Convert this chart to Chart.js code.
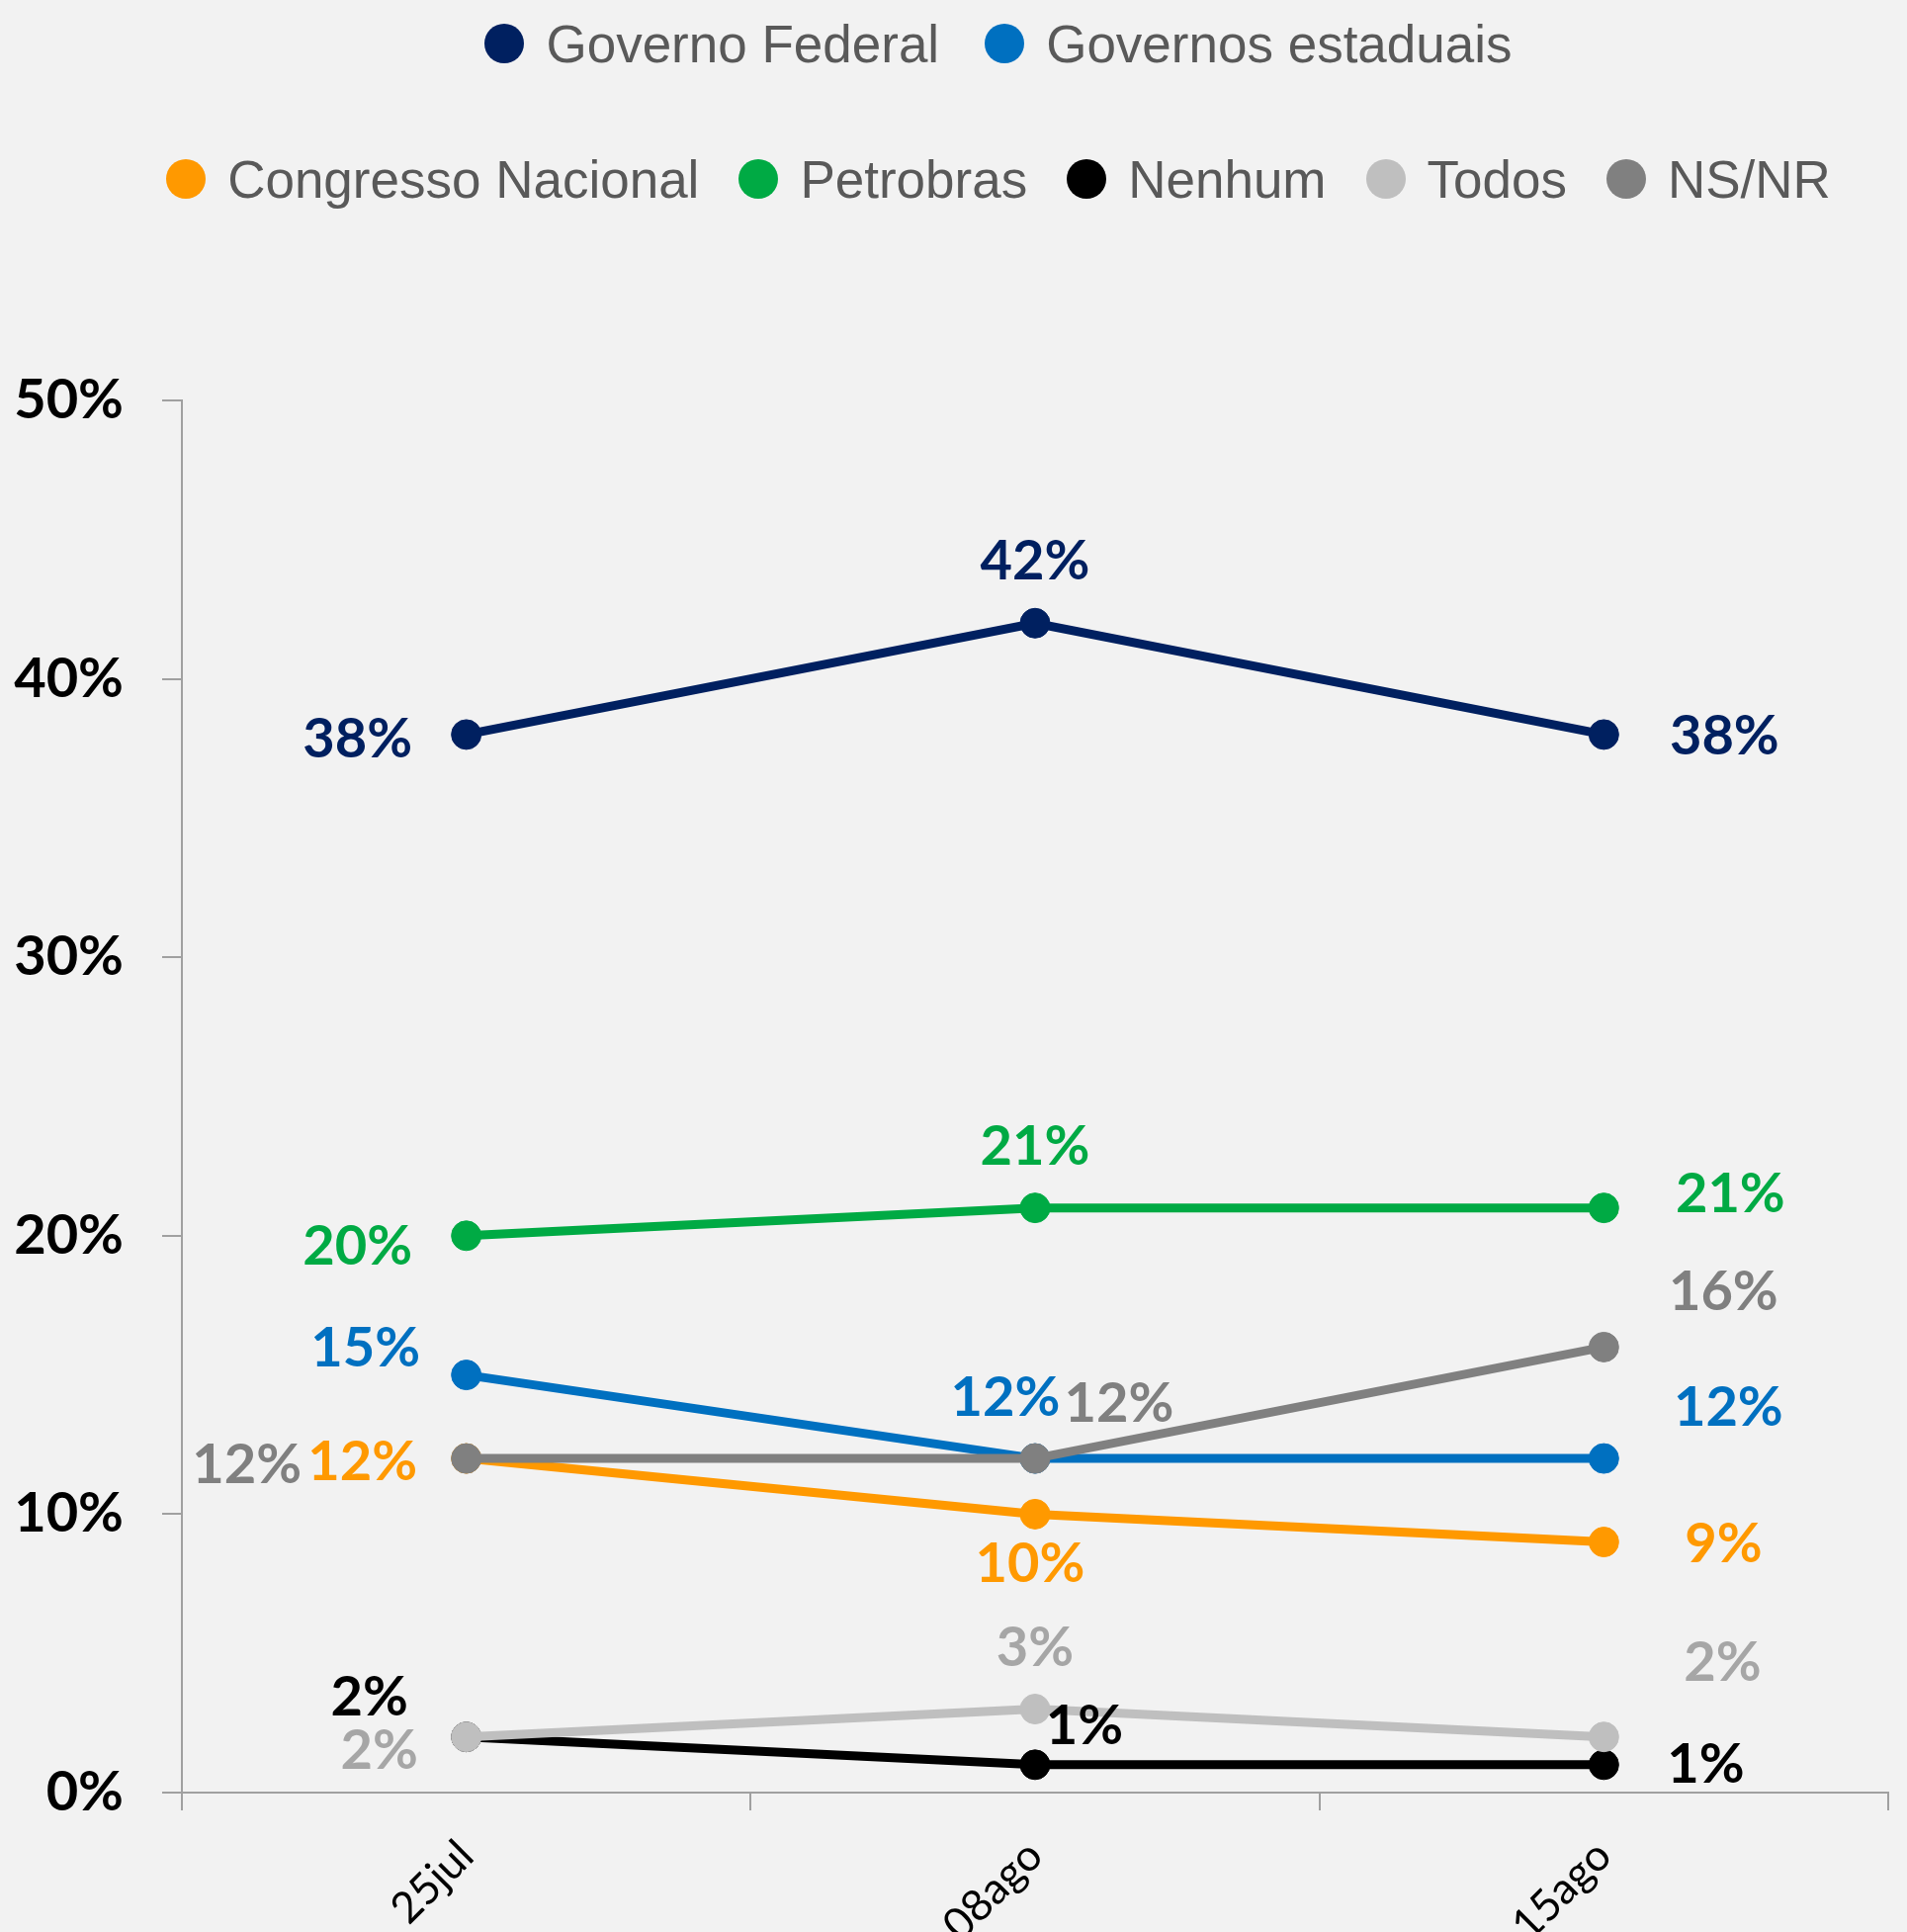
<!DOCTYPE html>
<html>
<head>
<meta charset="utf-8">
<script src="https://cdn.jsdelivr.net/npm/chart.js@4.4.1/dist/chart.umd.min.js"></script>
<style>
  html, body { margin: 0; padding: 0; background: #F2F2F2; overflow: hidden; width: 1929px; height: 1954px; }
  #wrap { position: relative; width: 1929px; height: 1954px; }
  #chart { position: absolute; left: 0; top: 0; }
  .legend-row {
    position: absolute; left: 0; width: 1929px; height: 60px;
    padding-left: 91px; box-sizing: border-box;
    display: flex; justify-content: center; align-items: center;
    font-family: "Liberation Sans", Arial, sans-serif; font-size: 53px; color: #595959;
  }
  .legend-item { display: flex; align-items: center; margin: 0 23px; white-space: nowrap; }
  .legend-row.second .legend-item { margin: 0 20px; }
  .legend-dot { width: 40px; height: 40px; border-radius: 50%; margin-right: 22px; }
</style>
</head>
<body>
<div id="wrap">
  <canvas id="chart" width="1929" height="2013"></canvas>
  <div id="legend"></div>
</div>
<script>
// categories
const dates = ['25jul', '08ago', '15ago'];

// series values (%)
const governoFederal    = [38, 42, 38];
const governosEstaduais = [15, 12, 12];
const congresso         = [12, 10, 9];
const petrobras         = [20, 21, 21];
const nenhum            = [2, 1, 1];
const todos             = [2, 3, 2];
const nsnr              = [12, 12, 16];

// y axis
const yMax = 50;
const yStep = 10;

const series = [
  { label: 'Governo Federal',    data: governoFederal,    color: '#002060', text: '#002060',
    offsets: [[-110, 5], [0, -62], [122, 2]] },
  { label: 'Governos estaduais', data: governosEstaduais, color: '#0070C0', text: '#0070C0',
    offsets: [[-102, -27], [-30, -61], [126, -51]] },
  { label: 'Congresso Nacional', data: congresso,         color: '#FF9900', text: '#FF9900',
    offsets: [[-105, 4], [-5, 51], [121, 2]] },
  { label: 'Petrobras',          data: petrobras,         color: '#00AA44', text: '#00AA44',
    offsets: [[-110, 11], [0, -62], [128, -14]] },
  { label: 'Nenhum',             data: nenhum,            color: '#000000', text: '#000000',
    offsets: [[-98, -40], [50, -39], [103, 0]] },
  { label: 'Todos',              data: todos,             color: '#BFBFBF', text: '#A6A6A6',
    offsets: [[-88, 14], [0, -62], [120, -75]] },
  { label: 'NS/NR',              data: nsnr,              color: '#808080', text: '#808080',
    offsets: [[-222, 7], [85, -55], [121, -56]] }
];

// legend: 2 items on first row, rest on second
const legendRows = [[0, 1], [2, 3, 4, 5, 6]];
const legendTops = [14, 151];
const legendEl = document.getElementById('legend');
legendRows.forEach((row, r) => {
  const div = document.createElement('div');
  div.className = 'legend-row' + (r === 1 ? ' second' : '');
  div.style.top = legendTops[r] + 'px';
  row.forEach(i => {
    const item = document.createElement('div');
    item.className = 'legend-item';
    const dot = document.createElement('span');
    dot.className = 'legend-dot';
    dot.style.background = series[i].color;
    const txt = document.createElement('span');
    txt.textContent = series[i].label;
    item.appendChild(dot);
    item.appendChild(txt);
    div.appendChild(item);
  });
  legendEl.appendChild(div);
});

// value labels next to each point
const pointLabels = {
  id: 'pointLabels',
  afterDatasetsDraw(chart) {
    const ctx = chart.ctx;
    ctx.save();
    ctx.font = 'bold 56px Lato';
    ctx.textAlign = 'center';
    ctx.textBaseline = 'middle';
    chart.data.datasets.forEach((ds, i) => {
      const meta = chart.getDatasetMeta(i);
      meta.data.forEach((pt, j) => {
        const [dx, dy] = ds.labelOffsets[j];
        ctx.fillStyle = ds.labelColor;
        ctx.fillText(ds.data[j] + '%', pt.x + dx, pt.y + dy);
      });
    });
    ctx.restore();
  }
};

const datasets = series.map((s, i) => ({
  label: s.label,
  data: s.data,
  borderColor: s.color,
  backgroundColor: s.color,
  pointBackgroundColor: s.color,
  pointBorderColor: s.color,
  borderWidth: 9,
  pointRadius: 15,
  pointBorderWidth: 1,
  tension: 0,
  order: series.length - i,
  labelColor: s.text,
  labelOffsets: s.offsets
}));

new Chart(document.getElementById('chart').getContext('2d'), {
  type: 'line',
  data: { labels: dates, datasets },
  options: {
    responsive: false,
    animation: false,
    devicePixelRatio: 1,
    layout: { padding: { top: 405, right: 19, left: 0, bottom: 0 } },
    plugins: { legend: { display: false }, tooltip: { enabled: false } },
    scales: {
      x: {
        offset: true,
        grid: { offset: true, drawOnChartArea: false, tickLength: 18, color: '#A0A0A0', lineWidth: 2 },
        border: { color: '#A0A0A0', width: 2 },
        ticks: {
          minRotation: 45, maxRotation: 45, padding: 20, color: '#000000',
          font: { family: 'Lato', size: 44 }
        },
        afterFit: s => { s.height = 200; }
      },
      y: {
        min: 0, max: yMax,
        ticks: {
          stepSize: yStep, padding: 39, color: '#000000',
          callback: v => v + '%',
          font: { family: 'Lato', size: 56, weight: 'bold' }
        },
        grid: { drawOnChartArea: false, tickLength: 20, color: '#A0A0A0', lineWidth: 2 },
        border: { color: '#A0A0A0', width: 2 },
        afterFit: s => { s.width = 184; }
      }
    }
  },
  plugins: [pointLabels]
});
</script>
</body>
</html>
